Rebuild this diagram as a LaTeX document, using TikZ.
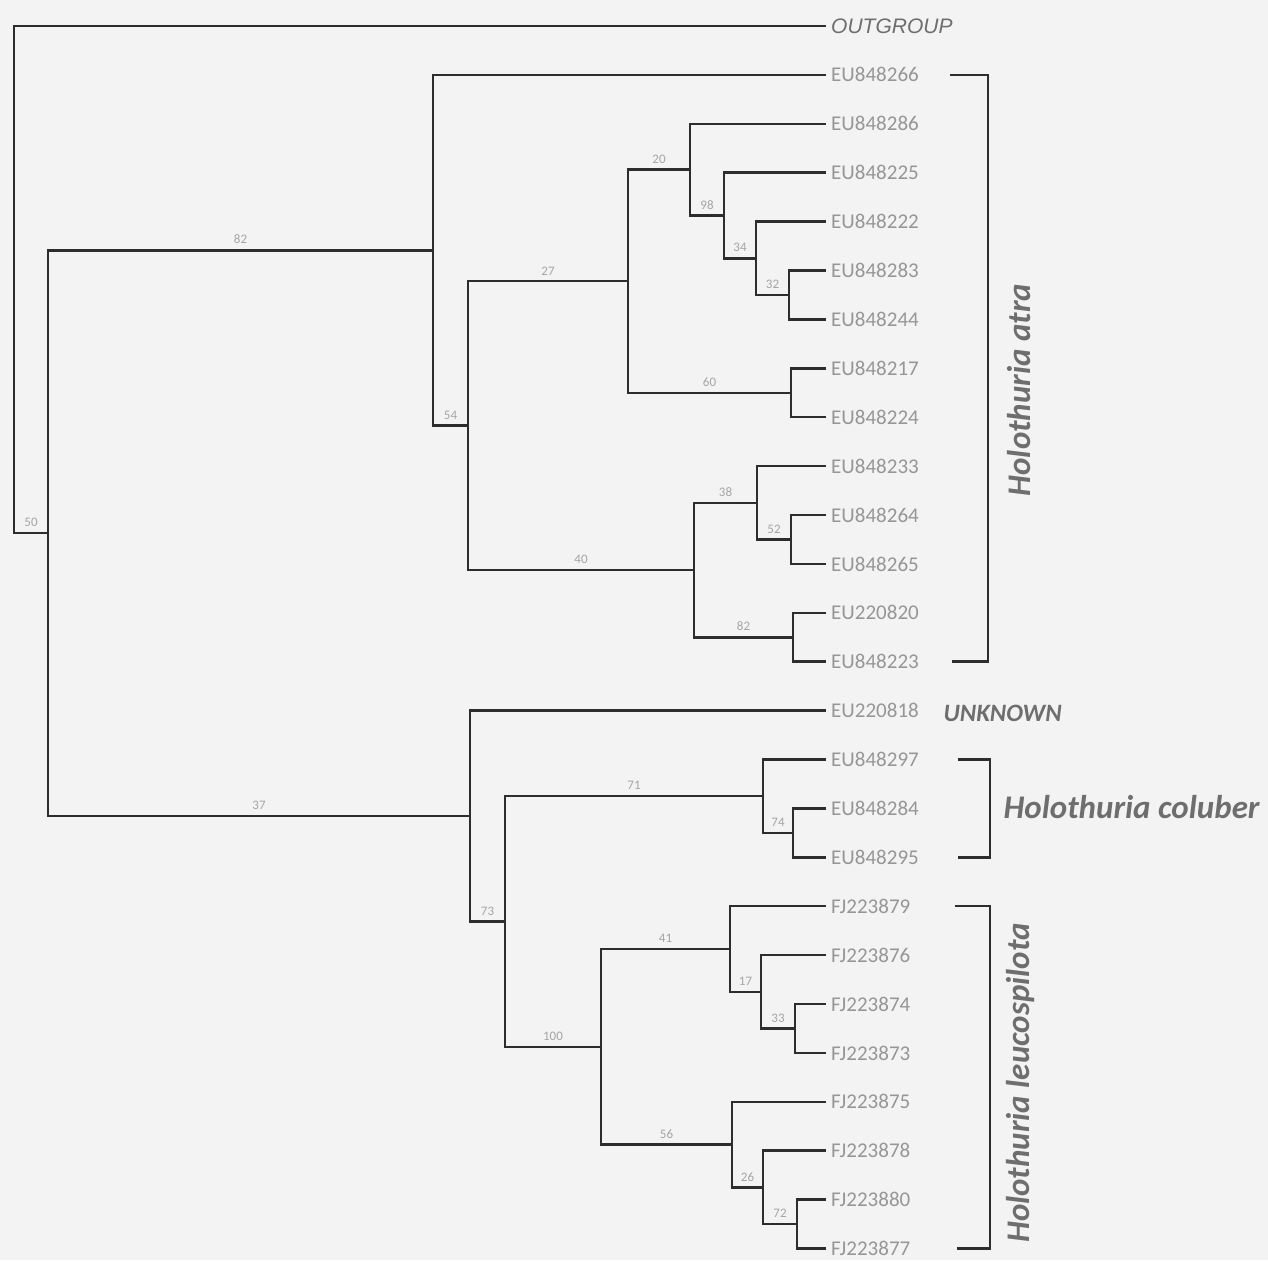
\documentclass[tikz,border=0pt]{standalone}
\usepackage{fontspec}
\setmainfont{Carlito}
\newfontfamily\arialfont{Liberation Sans}
\usetikzlibrary{calc}

\definecolor{inkline}{RGB}{45,45,45}
\definecolor{tiplabel}{RGB}{150,150,150}
\definecolor{bootlabel}{RGB}{165,165,165}
\definecolor{cladelabel}{RGB}{110,110,110}
\definecolor{paper}{RGB}{243,243,243}

\newcommand{\dy}{48.9}

\begin{document}
\begin{tikzpicture}[x=1pt, y=-1pt,
  branch/.style={draw=inkline, line width=2.5pt},
  leaf/.style={anchor=west, inner xsep=5pt, inner ysep=0pt, text=tiplabel,
    font=\fontsize{21}{21}\selectfont},
  boot/.style={anchor=south, inner sep=0pt, yshift=6pt, text=bootlabel,
    font=\fontsize{13}{13}\selectfont},
  clade/.style={text=cladelabel, font=\fontsize{33}{33}\selectfont\bfseries\itshape}]
  \fill[paper] (0,0) rectangle (1268,1260);
  \useasboundingbox (0,0) rectangle (1268,1260);

  % tips, top to bottom (one row = \dy)
  \node[leaf, text=cladelabel, font=\fontsize{21}{21}\selectfont\arialfont\itshape]
    (OUTGROUP) at (826,26) {OUTGROUP};
  \foreach \acc [count=\i] in {EU848266, EU848286, EU848225, EU848222, EU848283,
      EU848244, EU848217, EU848224, EU848233, EU848264, EU848265, EU220820,
      EU848223, EU220818, EU848297, EU848284, EU848295, FJ223879, FJ223876,
      FJ223874, FJ223873, FJ223875, FJ223878, FJ223880, FJ223877}
    \node[leaf] (\acc) at (826, 26+\dy*\i) {\acc};

  % internal nodes (y = mean of the two children, in rows)
  \coordinate (root) at (14, 26+10.371*\dy);
  \coordinate (ing) at (48, 26+10.371*\dy);
  \coordinate (atra) at (433, 26+4.586*\dy);
  \coordinate (c0) at (468, 26+8.172*\dy);
  \coordinate (c1) at (628, 26+5.219*\dy);
  \coordinate (c2) at (690, 26+2.9375*\dy);
  \coordinate (c3) at (724, 26+3.875*\dy);
  \coordinate (c4) at (756, 26+4.75*\dy);
  \coordinate (c5) at (789, 26+5.5*\dy);
  \coordinate (c6) at (791, 26+7.5*\dy);
  \coordinate (c7) at (694, 26+11.125*\dy);
  \coordinate (c8) at (757, 26+9.75*\dy);
  \coordinate (c9) at (791, 26+10.5*\dy);
  \coordinate (c10) at (793, 26+12.5*\dy);
  \coordinate (bot) at (470, 26+16.156*\dy);
  \coordinate (k1) at (505, 26+18.3125*\dy);
  \coordinate (k2) at (763, 26+15.75*\dy);
  \coordinate (k3) at (793, 26+16.5*\dy);
  \coordinate (l1) at (601, 26+20.875*\dy);
  \coordinate (l2) at (730, 26+18.875*\dy);
  \coordinate (l3) at (761, 26+19.75*\dy);
  \coordinate (l4) at (795, 26+20.5*\dy);
  \coordinate (l5) at (732, 26+22.875*\dy);
  \coordinate (l6) at (763, 26+23.75*\dy);
  \coordinate (l7) at (797, 26+24.5*\dy);

  % branches
  \foreach \a/\n/\b in {OUTGROUP.west/root/ing, atra/ing/bot,
      EU848266.west/atra/c0, c1/c0/c7, c2/c1/c6, EU848286.west/c2/c3,
      EU848225.west/c3/c4, EU848222.west/c4/c5, EU848283.west/c5/EU848244.west,
      EU848217.west/c6/EU848224.west, c8/c7/c10, EU848233.west/c8/c9,
      EU848264.west/c9/EU848265.west, EU220820.west/c10/EU848223.west,
      EU220818.west/bot/k1, k2/k1/l1, EU848297.west/k2/k3,
      EU848284.west/k3/EU848295.west, l2/l1/l5, FJ223879.west/l2/l3,
      FJ223876.west/l3/l4, FJ223874.west/l4/FJ223873.west,
      FJ223875.west/l5/l6, FJ223878.west/l6/l7, FJ223880.west/l7/FJ223877.west}
    \draw[branch] (\a) -| (\n) |- (\b);

  % bootstrap values
  \foreach \p/\c/\v in {root/ing/50, ing/atra/82, ing/bot/37, atra/c0/54,
      c0/c1/27, c0/c7/40, c1/c2/20, c2/c3/98, c3/c4/34, c4/c5/32, c1/c6/60,
      c7/c8/38, c8/c9/52, c7/c10/82, bot/k1/73, k1/k2/71, k2/k3/74,
      k1/l1/100, l1/l2/41, l2/l3/17, l3/l4/33, l1/l5/56, l5/l6/26, l6/l7/72}
    \node[boot] (b-\c) at ($(\p |- \c)!.5!(\c)$) {\v};

  % clade brackets
  \draw[branch] (950, 26+\dy) -| (988, 26+13*\dy) -- (952, 26+13*\dy);
  \draw[branch] (958, 26+15*\dy) -| (990, 26+17*\dy) -- (958, 26+17*\dy);
  \draw[branch] (955, 26+18*\dy) -| (990, 26+25*\dy) -- (957, 26+25*\dy);

  \node[clade, anchor=west, font=\fontsize{25}{25}\selectfont\bfseries\itshape]
    (unknown) at (940,713) {UNKNOWN};
  \node[clade, rotate=90] (hatra) at (1019,390) {Holothuria atra};
  \node[clade, anchor=west] (hcoluber) at (1000,807) {Holothuria coluber};
  \node[clade, rotate=90] (hleuco) at (1021,1083) {Holothuria leucospilota};
\end{tikzpicture}
\end{document}
